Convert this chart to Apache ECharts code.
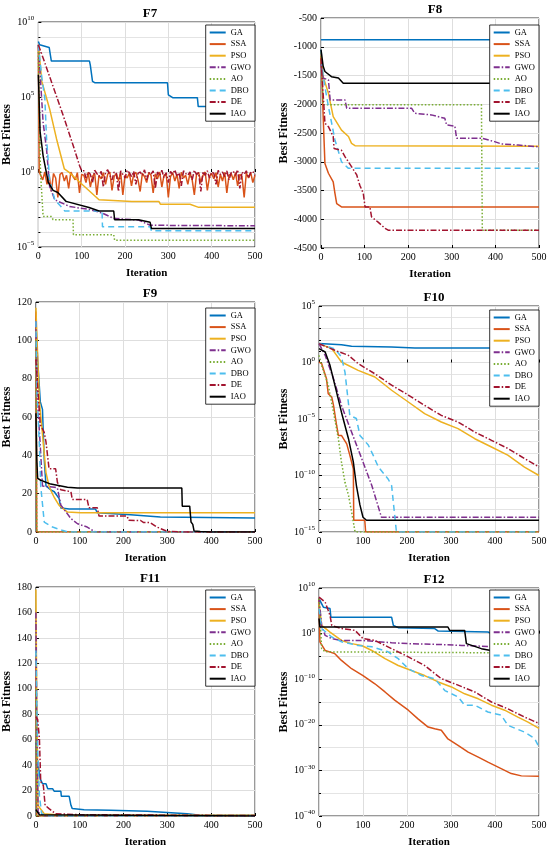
<!DOCTYPE html>
<html>
<head>
<meta charset="utf-8">
<script src="https://cdn.jsdelivr.net/npm/echarts@6/dist/echarts.min.js"></script>
<style>
  html, body { margin: 0; padding: 0; background: #fff; }
  #chart { width: 550px; height: 851px; }
</style>
</head>
<body>
<div id="chart"></div>
<script>
const algos = ['GA', 'SSA', 'PSO', 'GWO', 'AO', 'DBO', 'DE', 'IAO'];
const xTicks = [0, 100, 200, 300, 400, 500];

// F7 (log scale) -- [iteration, best fitness]
const f7GA = [[0, 5e8], [3, 3e8], [25, 2e8], [30, 2.5e7], [118, 2.5e7], [120, 1.3e7], [125, 1.1e6], [130, 9e5], [298, 9e5], [300, 1.4e5], [310, 9e4], [367, 9e4], [369, 2.3e4], [398, 2.3e4], [400, 1e4], [500, 1e4]];
const f7SSAStart = [[0, 3e8], [2, 1.0]];
// SSA oscillation, one value every 5 iterations from 5 to 500
const f7SSANoise = [
  0.9, 0.3, 1.0, 0.15, 0.6, 0.05, 0.8, 0.4, 0.02, 0.7,
  0.9, 0.25, 0.6, 0.08, 1.0, 0.5, 0.3, 0.9, 0.04, 0.7,
  0.6, 0.2, 0.95, 0.1, 0.5, 0.8, 0.03, 0.6, 0.35, 0.9,
  0.15, 0.7, 1.0, 0.06, 0.5, 0.8, 0.25, 0.9, 0.03, 0.6,
  0.4, 0.85, 0.12, 0.7, 0.95, 0.3, 0.05, 0.8, 0.5, 0.2,
  0.9, 0.6, 0.04, 0.75, 0.35, 1.0, 0.1, 0.6, 0.8, 0.02,
  0.5, 0.9, 0.25, 0.7, 0.08, 0.95, 0.4, 0.6, 0.15, 0.85,
  0.3, 0.03, 0.7, 0.9, 0.2, 0.6, 1.0, 0.06, 0.5, 0.8,
  0.35, 0.9, 0.1, 0.7, 0.25, 0.95, 0.04, 0.6, 0.8, 0.3,
  0.9, 0.12, 0.7, 0.5, 0.02, 0.85, 0.4, 0.95, 0.2, 0.6
];
const f7PSO = [[0, 3e8], [8, 1.1e6], [26, 1.6e4], [42, 160], [60, 1.6], [72, 0.9], [102, 0.14], [140, 1.4e-2], [216, 1.1e-2], [278, 1.1e-2], [282, 7e-3], [350, 7e-3], [370, 4.4e-3], [500, 4.4e-3]];
const f7GWO = [[0, 3e8], [11, 2e3], [19, 32], [26, 0.11], [38, 1.4e-2], [72, 5e-3], [117, 3.2e-3], [148, 1.8e-3], [174, 8e-4], [231, 6.3e-4], [258, 2.8e-4], [500, 2.6e-4]];
const f7AO = [[0, 1e8], [2, 1e4], [5, 0.9], [11, 1.1e-3], [30, 1.1e-3], [34, 6.6e-4], [80, 6.6e-4], [81, 6.5e-5], [174, 6.5e-5], [176, 2.8e-5], [500, 2.8e-5]];
const f7DBO = [[0, 3e8], [8, 2e6], [15, 8e4], [19, 160], [26, 0.3], [38, 1.4e-2], [49, 6.3e-3], [61, 2.5e-3], [147, 2.5e-3], [148, 2.2e-4], [258, 2.2e-4], [261, 1.2e-4], [500, 1.2e-4]];
const f7DEStart = [[0, 3e8], [4, 3e8], [11, 4e7], [57, 6.3e3], [80, 63], [95, 2.7], [100, 1.2]];
// DE oscillation, one value every 5 iterations from 105 to 500
const f7DENoise = [
  1.2, 0.4, 1.0, 0.7, 0.2, 1.3, 0.8, 0.5, 1.1, 0.1,
  0.9, 1.4, 0.6, 0.3, 1.0, 0.8, 0.05, 1.2, 0.7, 0.4,
  1.3, 0.9, 0.5, 1.1, 0.15, 0.8, 1.0, 0.6, 1.4, 0.3,
  0.9, 0.7, 1.2, 0.08, 1.0, 0.6, 1.3, 0.4, 0.9, 0.2,
  1.1, 0.7, 1.4, 0.5, 0.9, 0.12, 1.2, 0.8, 0.6, 1.0,
  0.3, 1.3, 0.7, 0.9, 0.05, 1.1, 0.6, 1.2, 0.4, 1.0,
  0.8, 0.15, 1.3, 0.7, 1.0, 0.5, 1.2, 0.3, 0.9, 1.1,
  0.6, 1.4, 0.08, 1.0, 0.7, 1.2, 0.4, 0.9, 1.1, 0.6
];
const f7IAO = [[0, 3e6], [4, 500], [11, 12], [23, 0.2], [34, 6e-2], [45, 4.3e-2], [64, 1.1e-2], [117, 4.3e-3], [140, 2.5e-3], [174, 2.5e-3], [176, 6.6e-4], [231, 6.6e-4], [258, 4.4e-4], [261, 1.7e-4], [500, 1.7e-4]];

// F8 (linear)
const f8GA = [[0, -880], [500, -880]];
const f8SSA = [[0, -1100], [5, -2215], [9, -3030], [17, -3200], [28, -3350], [32, -3550], [36, -3730], [47, -3785], [500, -3785]];
const f8PSO = [[0, -1200], [5, -1520], [17, -1810], [28, -2215], [47, -2450], [63, -2560], [70, -2680], [78, -2720], [500, -2730]];
const f8GWO = [[0, -1300], [5, -1545], [17, -1575], [21, -1925], [55, -1925], [59, -2070], [208, -2070], [215, -2157], [253, -2185], [284, -2245], [288, -2360], [307, -2380], [311, -2590], [368, -2590], [398, -2650], [414, -2690], [452, -2710], [500, -2740]];
const f8AO = [[0, -1100], [5, -2010], [368, -2010], [370, -4190], [500, -4190]];
const f8DBO = [[0, -1050], [5, -1520], [17, -2040], [32, -2620], [47, -3000], [63, -3115], [500, -3115]];
const f8DE = [[0, -1200], [9, -2330], [17, -2390], [28, -2560], [30, -2770], [47, -2800], [55, -2910], [70, -3085], [82, -3230], [89, -3410], [97, -3550], [101, -3785], [112, -3785], [116, -3960], [131, -4050], [147, -4160], [154, -4190], [500, -4190]];
const f8IAO = [[0, -1050], [5, -1340], [9, -1430], [24, -1520], [40, -1545], [51, -1635], [500, -1635]];

// F9 (linear)
const f9GA = [[0, 110], [4, 90], [10, 68], [15, 64], [19, 38], [23, 24], [34, 22], [42, 21], [53, 17.4], [57, 12.5], [76, 12], [136, 12], [140, 10], [216, 9], [284, 7.8], [500, 7.3]];
const f9SSA = [[0, 115], [2, 0], [500, 0]];
const f9PSO = [[0, 117], [4, 92], [8, 68], [15, 51], [23, 31], [30, 24], [34, 21.7], [42, 18], [53, 13.9], [72, 10.4], [102, 10], [500, 10]];
const f9GWO = [[0, 110], [4, 67], [10, 45], [15, 24], [42, 23.4], [49, 23], [57, 14], [80, 7], [95, 4.3], [117, 2.6], [133, 0.3], [140, 0], [500, 0]];
const f9AO = [[0, 100], [2, 0], [500, 0]];
const f9DBO = [[0, 110], [2, 76], [8, 45], [11, 24], [19, 5.2], [38, 2.6], [60, 0.9], [72, 0], [500, 0]];
const f9DE = [[0, 90], [4, 76], [10, 56], [19, 52], [23, 47], [30, 33], [45, 33], [49, 26], [57, 22], [80, 21], [83, 16.9], [117, 16.9], [121, 12.7], [140, 12.7], [144, 8.3], [208, 8.3], [212, 6.1], [239, 6], [246, 4.9], [261, 4.9], [276, 2.6], [300, 0.3], [345, 0], [500, 0]];
const f9IAO = [[0, 62], [2, 38], [4, 28], [11, 27], [34, 25], [72, 23.4], [95, 23], [333, 23], [334, 13.5], [351, 13.5], [354, 5.2], [358, 4], [361, 0.5], [375, 0.3], [398, 0], [500, 0]];

// F10 (log scale)
const f10GA = [[0, 47], [51, 38], [74, 27], [165, 23], [218, 19], [500, 19]];
const f10SSA = [[0, 1.1], [6, 0.8], [17, 3.7e-2], [21, 1.7e-3], [29, 8.7e-4], [33, 1.6e-4], [40, 2.8e-6], [44, 3.5e-7], [51, 3.5e-7], [63, 6.3e-8], [70, 6.3e-9], [78, 4e-10], [79, 1.1e-14], [104, 1.1e-14], [106, 1e-15], [500, 1e-15]];
const f10PSO = [[0, 47], [29, 17], [51, 1.1], [89, 0.2], [127, 5.2e-2], [165, 3.5e-3], [203, 3.2e-4], [240, 3e-5], [278, 5.4e-6], [316, 1.4e-6], [354, 1.8e-7], [392, 3.3e-8], [429, 6.3e-9], [467, 5.6e-10], [500, 1e-10]];
const f10GWO = [[0, 47], [14, 4.3], [33, 3.7e-2], [51, 1.6e-4], [74, 7e-7], [97, 3.2e-9], [120, 1.3e-11], [142, 2e-14], [500, 2e-14]];
const f10AO = [[0, 4.3], [6, 0.56], [21, 1e-2], [33, 4e-5], [44, 1.8e-7], [51, 1.6e-9], [59, 2.5e-11], [67, 1.8e-12], [74, 6.3e-14], [82, 1e-15], [500, 1e-15]];
const f10DBO = [[0, 47], [36, 16], [51, 3.1], [59, 0.14], [70, 2.1e-5], [74, 2e-5], [85, 1.1e-5], [93, 3.5e-7], [112, 5e-8], [123, 6.3e-9], [135, 5.6e-10], [157, 5e-11], [165, 1.3e-11], [176, 1e-15], [500, 1e-15]];
const f10DE = [[0, 47], [36, 12], [67, 4.3], [89, 0.8], [127, 0.1], [165, 1e-2], [203, 1.3e-3], [240, 1.6e-4], [278, 2.1e-5], [316, 5.4e-6], [354, 7e-7], [392, 1.3e-7], [429, 2.5e-8], [467, 3.2e-9], [500, 5.6e-10]];
const f10IAO = [[0, 17], [14, 8.5], [25, 0.56], [36, 1e-2], [51, 4e-5], [67, 1.8e-7], [78, 1.6e-9], [85, 1.3e-11], [93, 2.5e-13], [100, 2e-14], [108, 1.1e-14], [500, 1.1e-14]];

// F11 (linear)
const f11GA = [[0, 58], [2, 47], [10, 29], [15, 25.4], [23, 25.4], [27, 21.5], [38, 21.5], [42, 19.4], [57, 19.4], [58, 15.5], [76, 15.5], [80, 8.4], [83, 5.8], [110, 5], [170, 4.5], [254, 3.7], [257, 2.6], [345, 1.8], [375, 0.5], [500, 0.5]];
const f11SSA = [[0, 120], [2, 0], [500, 0]];
const f11PSO = [[0, 178], [2, 92], [5, 8], [19, 1.8], [60, 0.5], [500, 0.5]];
const f11GWO = [[0, 160], [2, 66], [5, 3], [20, 0], [500, 0]];
const f11AO = [[0, 100], [2, 0], [500, 0]];
const f11DBO = [[0, 130], [4, 53], [8, 16], [11, 16], [13, 1.8], [30, 0], [500, 0]];
const f11DE = [[0, 78], [4, 76], [8, 61], [11, 27], [17, 24], [21, 8.4], [30, 5.8], [45, 1.8], [102, 1.0], [500, 0.3]];
const f11IAO = [[0, 5], [8, 1], [500, 0]];

// F12 (log scale)
const f12GA = [[0, 4.6e7], [10, 6.3e5], [25, 3.2e5], [27, 4e3], [165, 4e3], [169, 63], [180, 20], [263, 12.6], [271, 3.7], [384, 2.2], [392, 1], [500, 1.6]];
const f12SSA = [[0, 5e7], [2, 1.6e-2], [14, 2e-4], [36, 4e-5], [51, 1.3e-6], [74, 2e-8], [100, 6.3e-10], [127, 1e-11], [150, 1.6e-13], [172, 2.5e-15], [203, 1.6e-17], [225, 2e-19], [248, 3.2e-21], [263, 1.3e-21], [278, 6.3e-22], [293, 8e-24], [316, 3.2e-25], [339, 1e-26], [362, 8e-28], [384, 6.3e-29], [414, 2.5e-30], [437, 2e-31], [460, 6.3e-32], [500, 5e-32]];
const f12PSO = [[0, 8e6], [6, 63], [25, 2.2], [51, 3.2e-2], [74, 6.3e-3], [97, 2.5e-3], [120, 2e-4], [150, 3.2e-6], [180, 1e-7], [210, 8e-9], [240, 6.3e-10], [271, 2.5e-11], [301, 2e-12], [331, 6.3e-14], [362, 5e-15], [392, 2e-16], [422, 1.6e-17], [452, 5e-19], [475, 4e-20], [500, 1.6e-21]];
const f12GWO = [[0, 5e7], [6, 63], [14, 0.4], [29, 8e-2], [51, 3.2e-2], [97, 3.2e-2], [127, 2e-2], [165, 1e-2], [203, 6.3e-3], [278, 4e-3], [324, 2.5e-3], [400, 1.3e-3], [445, 2e-4], [500, 1.6e-5]];
const f12AO = [[0, 5e7], [6, 5e-4], [14, 1e-4], [384, 6.3e-5], [500, 4e-5]];
const f12DBO = [[0, 3.2e5], [6, 12.6], [29, 0.18], [51, 1.6e-2], [89, 2.5e-3], [120, 1.3e-3], [157, 1e-4], [180, 3.2e-6], [203, 2e-8], [233, 6.3e-10], [263, 1.3e-10], [286, 3.2e-13], [316, 1.3e-14], [331, 2e-16], [354, 2e-16], [384, 6.3e-18], [414, 1.3e-18], [429, 8e-21], [467, 2.5e-22], [490, 1e-23], [500, 1.3e-25]];
const f12DE = [[0, 1e8], [14, 8e6], [25, 1e4], [29, 63], [51, 12.6], [82, 5], [100, 8e-2], [127, 3.2e-2], [165, 5e-4], [203, 8e-6], [240, 1e-7], [278, 1.3e-10], [316, 5e-12], [354, 1.6e-13], [392, 1e-15], [429, 3.2e-17], [467, 5e-19], [500, 2e-20]];
const f12IAO = [[0, 2e3], [2, 28], [293, 28], [297, 5], [331, 5], [335, 6.3e-3], [369, 5e-4], [400, 1.3e-4], [500, 1e-4]];

const FONT = '"Liberation Serif", "Times New Roman", serif';
const colors = ['#0072BD', '#D95319', '#EDB120', '#7E2F8E', '#77AC30', '#4DBEEE', '#A2142F', '#000000'];
const dashes = ['solid', 'solid', 'solid', [6, 2, 1.5, 2], [1.5, 2], [6, 4], [6, 2, 1.5, 2], 'solid'];

const f7SSA = f7SSAStart.concat(f7SSANoise.map((v, i) => [5 + i * 5, v]));
const f7DE = f7DEStart.concat(f7DENoise.map((v, i) => [105 + i * 5, v]));

const panels = [
  { title: 'F7', grid: [35, 22, 220, 225], log: true, min: -5, max: 10, interval: 5, minor: 5, yGap: 20, legend: [295, 25],
    data: [f7GA, f7SSA, f7PSO, f7GWO, f7AO, f7DBO, f7DE, f7IAO] },
  { title: 'F8', grid: [321, 18, 218, 230], log: false, min: -4500, max: -500, interval: 500, yGap: 27, legend: [11, 25],
    data: [f8GA, f8SSA, f8PSO, f8GWO, f8AO, f8DBO, f8DE, f8IAO] },
  { title: 'F9', grid: [35, 302, 220, 230], log: false, min: 0, max: 120, interval: 20, yGap: 17, legend: [295, 308],
    data: [f9GA, f9SSA, f9PSO, f9GWO, f9AO, f9DBO, f9DE, f9IAO] },
  { title: 'F10', grid: [319, 306, 220, 226], log: true, min: -15, max: 5, interval: 5, minor: 5, yGap: 25, legend: [11, 310],
    data: [f10GA, f10SSA, f10PSO, f10GWO, f10AO, f10DBO, f10DE, f10IAO] },
  { title: 'F11', grid: [35, 587, 220, 229], log: false, min: 0, max: 180, interval: 20, yGap: 17, legend: [295, 590],
    data: [f11GA, f11SSA, f11PSO, f11GWO, f11AO, f11DBO, f11DE, f11IAO] },
  { title: 'F12', grid: [319, 588, 220, 228], log: true, min: -40, max: 10, interval: 10, minor: 2, yGap: 25, legend: [11, 590],
    data: [f12GA, f12SSA, f12PSO, f12GWO, f12AO, f12DBO, f12DE, f12IAO] }
];

function expLabel(v) {
  const n = Math.round(v);
  return '10{e|' + (n < 0 ? '\u2212' + (-n) : n) + '}';
}

const chart = echarts.init(document.getElementById('chart'));
const option = {
  animation: false,
  backgroundColor: '#fff',
  title: [], grid: [], xAxis: [], yAxis: [], legend: [], series: []
};

panels.forEach((p, k) => {
  const [l, t, w, h] = p.grid;
  option.title.push({
    text: p.title, left: l + w / 2, top: t - 20, textAlign: 'center',
    textStyle: { fontFamily: FONT, fontSize: 13, fontWeight: 'bold', color: '#000' }
  });
  option.grid.push({ left: l, top: t, width: w, height: h, show: true, borderColor: '#000', borderWidth: 0.8, backgroundColor: '#fff' });
  option.xAxis.push({
    gridIndex: k, type: 'value', min: 0, max: 500, interval: 100,
    name: 'Iteration', nameLocation: 'middle', nameGap: 21,
    nameTextStyle: { fontFamily: FONT, fontSize: 11, fontWeight: 'bold', color: '#000' },
    axisLine: { show: false },
    axisTick: { inside: true, length: 3, lineStyle: { color: '#000' } },
    axisLabel: { fontFamily: FONT, fontSize: 10, color: '#000', margin: 4 },
    splitLine: { lineStyle: { color: '#dedede' } }
  });
  const y = {
    gridIndex: k, type: 'value', min: p.min, max: p.max, interval: p.interval,
    name: 'Best Fitness', nameLocation: 'middle', nameGap: p.yGap,
    nameTextStyle: { fontFamily: FONT, fontSize: 12, fontWeight: 'bold', color: '#000' },
    axisLine: { show: false },
    axisTick: { inside: true, length: 3, lineStyle: { color: '#000' } },
    axisLabel: { fontFamily: FONT, fontSize: 10, color: '#000', margin: 4, formatter: v => String(v) },
    splitLine: { lineStyle: { color: '#dedede' } }
  };
  if (p.log) {
    y.axisLabel.formatter = expLabel;
    y.axisLabel.rich = { e: { fontFamily: FONT, fontSize: 7, color: '#000', padding: [0, 0, 7, 0] } };
    y.minorTick = { show: true, splitNumber: p.minor, length: 2, lineStyle: { color: '#000' } };
    y.minorSplitLine = { show: true, lineStyle: { color: '#e4e4e4' } };
  }
  option.yAxis.push(y);
  option.legend.push({
    orient: 'vertical', right: p.legend[0], top: p.legend[1],
    itemWidth: 16, itemHeight: 8, itemGap: 2.6, padding: [3, 4, 3, 3],
    borderColor: '#000', borderWidth: 0.8, backgroundColor: '#fff', borderRadius: 0,
    itemStyle: { opacity: 0, borderWidth: 0 },
    textStyle: { fontFamily: FONT, fontSize: 8.5, color: '#000' },
    data: algos
  });
  p.data.forEach((pts, i) => {
    option.series.push({
      name: algos[i], type: 'line', xAxisIndex: k, yAxisIndex: k,
      symbol: 'none',
      data: p.log ? pts.map(d => [d[0], Math.log10(d[1])]) : pts,
      lineStyle: { color: colors[i], width: 1.5, type: dashes[i] },
      itemStyle: { color: colors[i] }
    });
  });
});

chart.setOption(option);
window.addEventListener('resize', () => chart.resize());
</script>
</body>
</html>
